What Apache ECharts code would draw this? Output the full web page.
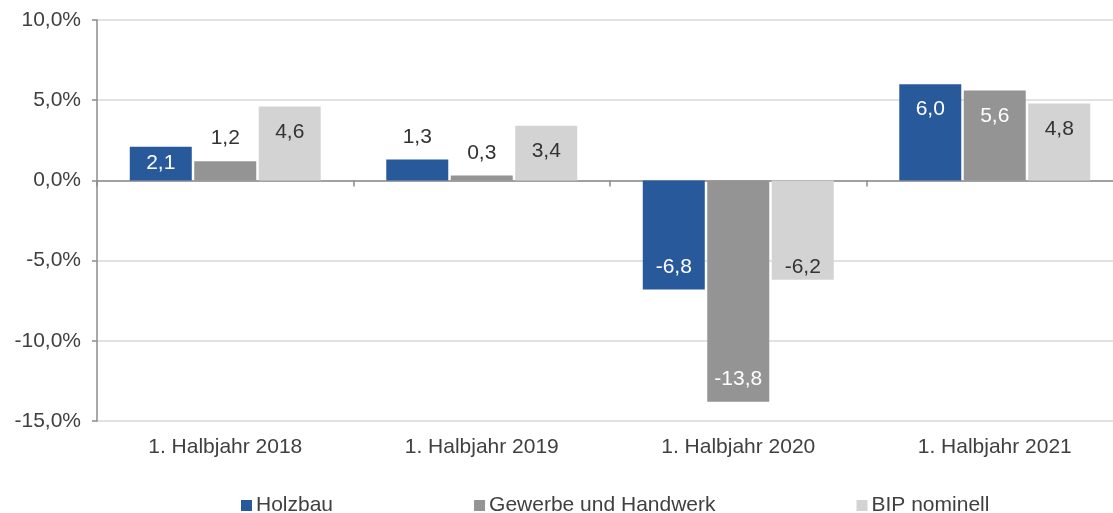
<!DOCTYPE html>
<html>
<head>
<meta charset="utf-8">
<script src="https://cdn.jsdelivr.net/npm/echarts@6/dist/echarts.min.js"></script>
<style>
  html, body { margin: 0; padding: 0; background: #fff; }
  #chart { width: 1113px; height: 513px; }
</style>
</head>
<body>
<div id="chart"></div>
<script>
const categories = ["1. Halbjahr 2018", "1. Halbjahr 2019", "1. Halbjahr 2020", "1. Halbjahr 2021"];
const holzbau = [2.1, 1.3, -6.8, 6.0];
const gewerbe = [1.2, 0.3, -13.8, 5.6];
const bip = [4.6, 3.4, -6.2, 4.8];
const yTicks = { min: -15, max: 10, interval: 5 };

const FONT = "'Liberation Sans', Arial, sans-serif";
const TEXT = "#404040";
const FS = 21;
const fmt = (v) => v.toFixed(1).replace(".", ",");

// label placement like the Excel original: small bars get the value above,
// bigger ones inside the end of the bar
function labelFor(v, insideColor, negDist) {
  if (v >= 0 && v < 1.5) {
    return { position: "top", distance: 12, color: "#333" };
  }
  if (v >= 0 && v < 2.5) {
    return { position: "inside", color: insideColor };
  }
  if (v >= 0) {
    return { position: "insideTop", distance: 15, color: insideColor };
  }
  return { position: "insideBottom", distance: negDist, color: insideColor };
}

function makeSeries(name, values, color, insideColor, negDist) {
  return {
    name,
    type: "bar",
    xAxisIndex: 0,
    barWidth: 62,
    barGap: "4%",
    itemStyle: { color },
    label: {
      show: true,
      fontSize: FS,
      fontFamily: FONT,
      formatter: (p) => fmt(p.value),
    },
    data: values.map((v) => ({ value: v, label: labelFor(v, insideColor, negDist) })),
  };
}

const chart = echarts.init(document.getElementById("chart"), null, { renderer: "canvas" });
chart.setOption({
  backgroundColor: "#fff",
  animation: false,
  textStyle: { fontFamily: FONT },
  // plot area runs a little past the right edge, as in the original crop
  grid: { left: 97, right: -10, top: 20, bottom: 92, outerBoundsMode: "none" },
  legend: {
    data: ["Holzbau", "Gewerbe und Handwerk", "BIP nominell"],
    top: 495,
    left: 241,
    padding: 0,
    icon: "rect",
    itemWidth: 11,
    itemHeight: 11,
    itemGap: 141,
    textStyle: { color: TEXT, fontSize: FS, fontFamily: FONT, padding: [0, 0, 0, -1] },
  },
  xAxis: [
    {
      type: "category",
      data: categories,
      position: "bottom",
      axisLine: { onZero: true, lineStyle: { color: "#8c8c8c", width: 1.5 } },
      axisTick: { show: true, length: 6, lineStyle: { color: "#8c8c8c", width: 1.5 } },
      axisLabel: { show: false },
      splitLine: { show: false },
    },
    {
      type: "category",
      data: categories,
      position: "bottom",
      axisLine: { show: false, onZero: false },
      axisTick: { show: false },
      axisLabel: { color: TEXT, fontSize: FS, fontFamily: FONT, margin: 16 },
      splitLine: { show: false },
    },
  ],
  yAxis: {
    type: "value",
    min: yTicks.min,
    max: yTicks.max,
    interval: yTicks.interval,
    axisLine: { show: true, lineStyle: { color: "#8c8c8c", width: 1.5 } },
    axisTick: { show: true, length: 5, lineStyle: { color: "#8c8c8c", width: 1.5 } },
    axisLabel: {
      color: TEXT,
      fontSize: FS,
      fontFamily: FONT,
      margin: 16,
      formatter: (v) => fmt(v) + "%",
    },
    splitLine: { lineStyle: { color: "#d9d9d9", width: 1.5 } },
  },
  series: [
    makeSeries("Holzbau", holzbau, "#285a9b", "#fff", 12),
    makeSeries("Gewerbe und Handwerk", gewerbe, "#949494", "#fff", 12),
    makeSeries("BIP nominell", bip, "#d3d3d3", "#333", 2),
  ],
});
</script>
</body>
</html>
